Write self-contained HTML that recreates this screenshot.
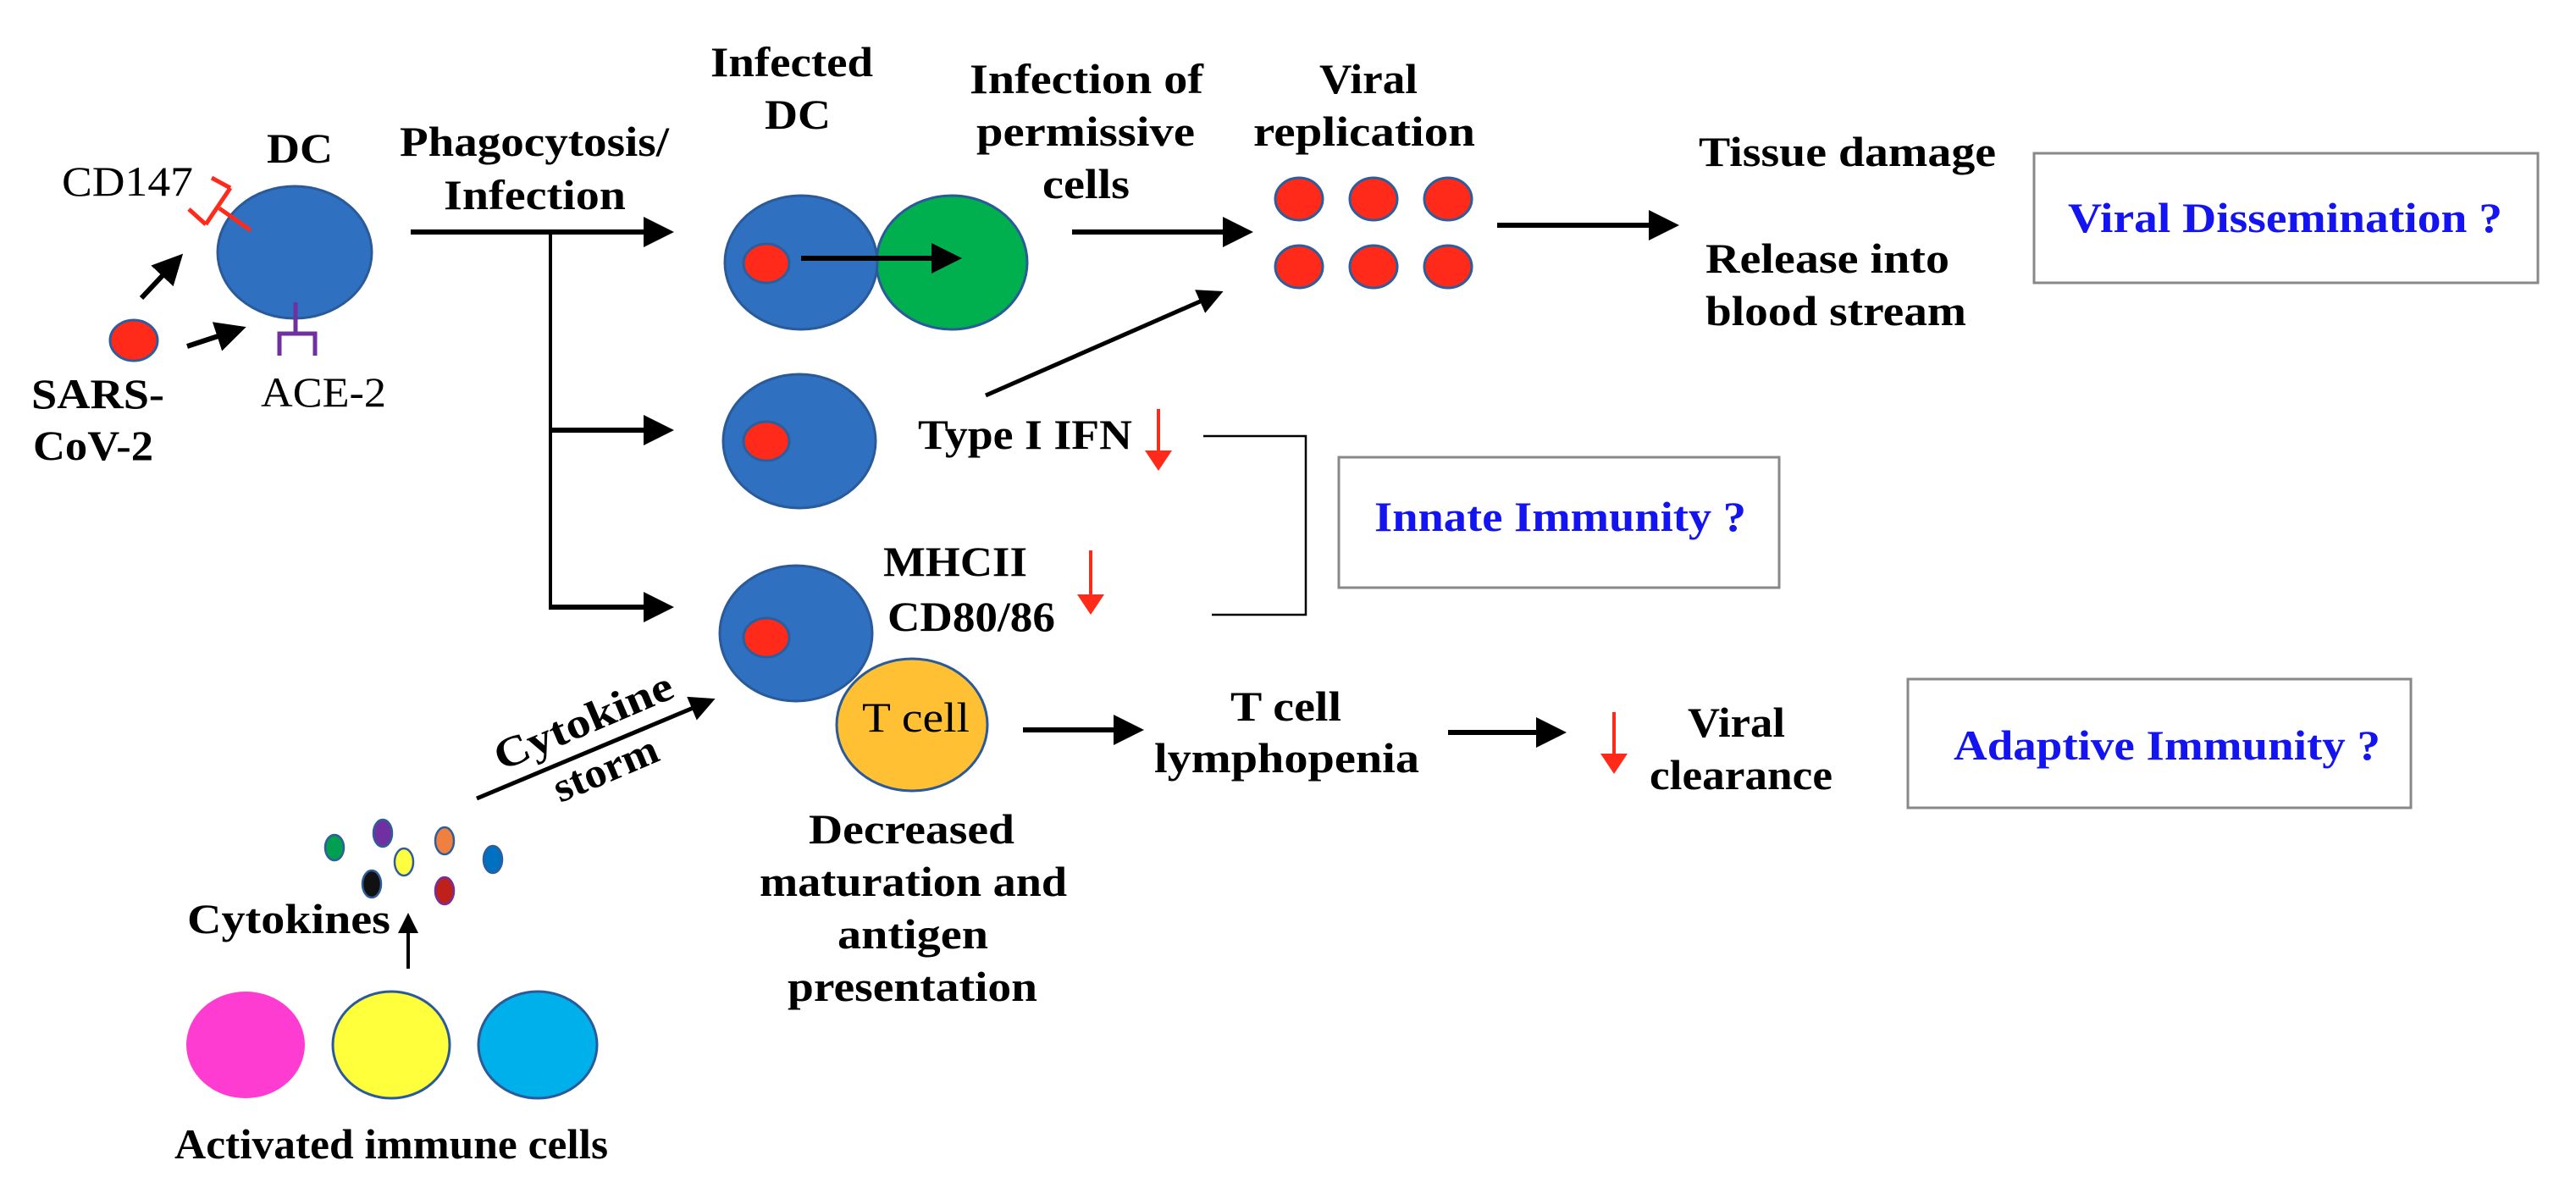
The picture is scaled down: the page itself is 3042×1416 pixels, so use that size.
<!DOCTYPE html>
<html><head><meta charset="utf-8"><style>
html,body{margin:0;padding:0;background:#fff;}
svg{display:block;}
text{font-family:"Liberation Serif",serif;font-weight:bold;fill:#000;}
.n{font-weight:normal;}
.b{fill:#1414f0;}
</style></head><body>
<svg width="3042" height="1416" viewBox="0 0 3042 1416" xmlns="http://www.w3.org/2000/svg">
<defs>
<marker id="ah" markerWidth="6" markerHeight="6" refX="5" refY="3" orient="auto" markerUnits="strokeWidth">
<path d="M0,0 L6,3 L0,6 z" fill="#000"/></marker>
<marker id="rh" markerWidth="6" markerHeight="8" refX="5" refY="4" orient="auto" markerUnits="strokeWidth">
<path d="M0,0 L6,4 L0,8 z" fill="#ff2a1a"/></marker>
</defs>
<g font-size="50">
<!-- DC -->
<text x="315" y="192" textLength="78" lengthAdjust="spacingAndGlyphs">DC</text>
<text class="n" x="73" y="231" textLength="155" lengthAdjust="spacingAndGlyphs">CD147</text>
<ellipse cx="348" cy="298" rx="91" ry="78" fill="#2f70c0" stroke="#2a5a9a" stroke-width="3"/>
<g stroke="#ff2a1a" stroke-width="5" fill="none">
<line x1="296" y1="272" x2="259" y2="246"/>
<line x1="272" y1="222" x2="243" y2="265"/>
<line x1="250" y1="210" x2="272" y2="222"/>
<line x1="223" y1="247" x2="243" y2="265"/>
</g>
<line x1="349" y1="357" x2="349" y2="393" stroke="#7030a0" stroke-width="5"/>
<polyline points="330,420 330,394 372,394 372,420" fill="none" stroke="#7030a0" stroke-width="5"/>
<ellipse cx="158" cy="402" rx="28" ry="24" fill="#ff2a1a" stroke="#2e5d9c" stroke-width="3"/>
<line x1="167" y1="352" x2="212" y2="304" stroke="#000" stroke-width="6" marker-end="url(#ah)"/>
<line x1="221" y1="409" x2="285" y2="388" stroke="#000" stroke-width="6" marker-end="url(#ah)"/>
<text x="37" y="482" textLength="157" lengthAdjust="spacingAndGlyphs">SARS-</text>
<text x="39" y="543" textLength="142" lengthAdjust="spacingAndGlyphs">CoV-2</text>
<text class="n" x="308" y="480" textLength="148" lengthAdjust="spacingAndGlyphs">ACE-2</text>

<text x="472" y="184" textLength="318" lengthAdjust="spacingAndGlyphs">Phagocytosis/</text>
<text x="524" y="247" textLength="215" lengthAdjust="spacingAndGlyphs">Infection</text>
<line x1="485" y1="274" x2="790" y2="274" stroke="#000" stroke-width="6" marker-end="url(#ah)"/>
<line x1="650" y1="274" x2="650" y2="720" stroke="#000" stroke-width="4"/>
<line x1="650" y1="508" x2="790" y2="508" stroke="#000" stroke-width="6" marker-end="url(#ah)"/>
<line x1="650" y1="717" x2="790" y2="717" stroke="#000" stroke-width="6" marker-end="url(#ah)"/>

<text x="839" y="90" textLength="192" lengthAdjust="spacingAndGlyphs">Infected</text>
<text x="903" y="152" textLength="78" lengthAdjust="spacingAndGlyphs">DC</text>
<ellipse cx="1124" cy="310" rx="89" ry="79" fill="#00b04f" stroke="#2a5a9a" stroke-width="3"/>
<ellipse cx="946" cy="310" rx="90" ry="79" fill="#2f70c0" stroke="#2a5a9a" stroke-width="3"/>
<ellipse cx="905" cy="311" rx="27" ry="23" fill="#ff2a1a" stroke="#2e5d9c" stroke-width="3"/>
<line x1="946" y1="305" x2="1130" y2="305" stroke="#000" stroke-width="6" marker-end="url(#ah)"/>

<text x="1145" y="110" textLength="276" lengthAdjust="spacingAndGlyphs">Infection of</text>
<text x="1153" y="172" textLength="258" lengthAdjust="spacingAndGlyphs">permissive</text>
<text x="1231" y="234" textLength="103" lengthAdjust="spacingAndGlyphs">cells</text>
<line x1="1266" y1="274" x2="1474" y2="274" stroke="#000" stroke-width="6" marker-end="url(#ah)"/>

<text x="1558" y="110" textLength="116" lengthAdjust="spacingAndGlyphs">Viral</text>
<text x="1480" y="172" textLength="262" lengthAdjust="spacingAndGlyphs">replication</text>
<g fill="#ff2a1a" stroke="#2e5d9c" stroke-width="3">
<ellipse cx="1534" cy="235" rx="28" ry="25"/><ellipse cx="1622" cy="235" rx="28" ry="25"/><ellipse cx="1710" cy="235" rx="28" ry="25"/>
<ellipse cx="1534" cy="315" rx="28" ry="25"/><ellipse cx="1622" cy="315" rx="28" ry="25"/><ellipse cx="1710" cy="315" rx="28" ry="25"/>
</g>
<line x1="1768" y1="266" x2="1977" y2="266" stroke="#000" stroke-width="6" marker-end="url(#ah)"/>
<text x="2006" y="196" textLength="351" lengthAdjust="spacingAndGlyphs">Tissue damage</text>
<text x="2014" y="322" textLength="288" lengthAdjust="spacingAndGlyphs">Release into</text>
<text x="2014" y="384" textLength="308" lengthAdjust="spacingAndGlyphs">blood stream</text>
<rect x="2402" y="181" width="595" height="153" fill="#fff" stroke="#888" stroke-width="3"/>
<text class="b" x="2442" y="274" textLength="513" lengthAdjust="spacingAndGlyphs">Viral Dissemination ?</text>

<ellipse cx="944" cy="521" rx="90" ry="79" fill="#2f70c0" stroke="#2a5a9a" stroke-width="3"/>
<ellipse cx="905" cy="521" rx="27" ry="23" fill="#ff2a1a" stroke="#2e5d9c" stroke-width="3"/>
<line x1="1164" y1="467" x2="1440" y2="346" stroke="#000" stroke-width="5" marker-end="url(#ah)"/>
<text x="1084" y="530" textLength="253" lengthAdjust="spacingAndGlyphs">Type I IFN</text>
<line x1="1368" y1="483" x2="1368" y2="552" stroke="#ff2a1a" stroke-width="4" marker-end="url(#rh)"/>
<polyline points="1421,515 1542,515 1542,726 1431,726" fill="none" stroke="#000" stroke-width="2.5"/>
<rect x="1581" y="540" width="520" height="154" fill="#fff" stroke="#888" stroke-width="3"/>
<text class="b" x="1623" y="627" textLength="439" lengthAdjust="spacingAndGlyphs">Innate Immunity ?</text>

<text x="1043" y="680" textLength="170" lengthAdjust="spacingAndGlyphs">MHCII</text>
<line x1="1288" y1="650" x2="1288" y2="722" stroke="#ff2a1a" stroke-width="4" marker-end="url(#rh)"/>
<text x="1048" y="745" textLength="198" lengthAdjust="spacingAndGlyphs">CD80/86</text>
<ellipse cx="940" cy="748" rx="90" ry="80" fill="#2f70c0" stroke="#2a5a9a" stroke-width="3"/>
<ellipse cx="905" cy="753" rx="27" ry="23" fill="#ff2a1a" stroke="#2e5d9c" stroke-width="3"/>
<ellipse cx="1077" cy="856" rx="89" ry="78" fill="#ffc133" stroke="#2a5a9a" stroke-width="3"/>
<text class="n" x="1018" y="864" textLength="127" lengthAdjust="spacingAndGlyphs">T cell</text>
<line x1="1208" y1="862" x2="1345" y2="862" stroke="#000" stroke-width="6" marker-end="url(#ah)"/>
<text x="1453" y="851" textLength="131" lengthAdjust="spacingAndGlyphs">T cell</text>
<text x="1363" y="912" textLength="313" lengthAdjust="spacingAndGlyphs">lymphopenia</text>
<line x1="1710" y1="865" x2="1844" y2="865" stroke="#000" stroke-width="6" marker-end="url(#ah)"/>
<line x1="1906" y1="841" x2="1906" y2="910" stroke="#ff2a1a" stroke-width="4" marker-end="url(#rh)"/>
<text x="1993" y="870" textLength="115" lengthAdjust="spacingAndGlyphs">Viral</text>
<text x="1948" y="932" textLength="216" lengthAdjust="spacingAndGlyphs">clearance</text>
<rect x="2253" y="802" width="594" height="152" fill="#fff" stroke="#888" stroke-width="3"/>
<text class="b" x="2307" y="897" textLength="504" lengthAdjust="spacingAndGlyphs">Adaptive Immunity ?</text>

<text x="955" y="996" textLength="243" lengthAdjust="spacingAndGlyphs">Decreased</text>
<text x="897" y="1058" textLength="363" lengthAdjust="spacingAndGlyphs">maturation and</text>
<text x="989" y="1120" textLength="178" lengthAdjust="spacingAndGlyphs">antigen</text>
<text x="930" y="1182" textLength="295" lengthAdjust="spacingAndGlyphs">presentation</text>

<line x1="563" y1="943" x2="840" y2="827" stroke="#000" stroke-width="5" marker-end="url(#ah)"/>
<text x="689" y="868" text-anchor="middle" transform="rotate(-23 689 852)" textLength="225" lengthAdjust="spacingAndGlyphs">Cytokine</text>
<text x="716" y="924" text-anchor="middle" transform="rotate(-23 716 910)" textLength="130" lengthAdjust="spacingAndGlyphs">storm</text>

<g stroke="#2e5d9c" stroke-width="2.5">
<ellipse cx="395" cy="1001" rx="11" ry="15" fill="#00a050"/>
<ellipse cx="452" cy="984" rx="11" ry="16" fill="#7030a0"/>
<ellipse cx="525" cy="993" rx="11" ry="16" fill="#f08040"/>
<ellipse cx="582" cy="1015" rx="11" ry="16" fill="#0070c0"/>
<ellipse cx="477" cy="1018" rx="11" ry="16" fill="#ffff40"/>
<ellipse cx="439" cy="1044" rx="11" ry="16" fill="#111"/>
<ellipse cx="525" cy="1052" rx="11" ry="16" fill="#c0201a" stroke="#7030a0"/>
</g>
<text x="221" y="1102" textLength="240" lengthAdjust="spacingAndGlyphs">Cytokines</text>
<line x1="482" y1="1144" x2="482" y2="1082" stroke="#000" stroke-width="4" marker-end="url(#ah)"/>
<ellipse cx="290" cy="1234" rx="70" ry="63" fill="#ff3cd2"/>
<ellipse cx="462" cy="1234" rx="69" ry="63" fill="#ffff3c" stroke="#2a5a9a" stroke-width="3"/>
<ellipse cx="635" cy="1234" rx="70" ry="63" fill="#00b0ea" stroke="#2a5a9a" stroke-width="3"/>
<text x="206" y="1368" textLength="512" lengthAdjust="spacingAndGlyphs">Activated immune cells</text>
</g>
</svg>
</body></html>
